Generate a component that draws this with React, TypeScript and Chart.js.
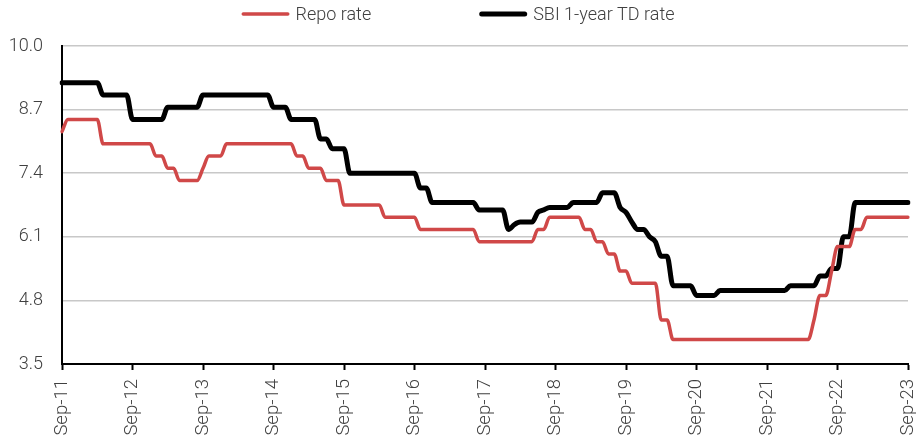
import { useEffect, useRef } from "react";
import { Chart, registerables } from "chart.js";

Chart.register(...registerables);

// Monthly observations, Sep-11 through Sep-23
const MONTH_NAMES = ["Jan", "Feb", "Mar", "Apr", "May", "Jun", "Jul", "Aug", "Sep", "Oct", "Nov", "Dec"];
const FIRST_YEAR = 2011;
const FIRST_MONTH = 8; // September
const MONTH_COUNT = 145;

const months: string[] = [];
for (let i = 0; i < MONTH_COUNT; i++) {
  const m = (FIRST_MONTH + i) % 12;
  const y = FIRST_YEAR + Math.floor((FIRST_MONTH + i) / 12);
  months.push(`${MONTH_NAMES[m]}-${String(y % 100).padStart(2, "0")}`);
}

// Policy repo rate (%), one value per month
const repoRate = [
  8.25, 8.5, 8.5, 8.5, 8.5, 8.5, 8.5, 8.0, 8.0, 8.0, 8.0, 8.0,
  8.0, 8.0, 8.0, 8.0, 7.75, 7.75, 7.5, 7.5, 7.25, 7.25, 7.25, 7.25,
  7.5, 7.75, 7.75, 7.75, 8.0, 8.0, 8.0, 8.0, 8.0, 8.0, 8.0, 8.0,
  8.0, 8.0, 8.0, 8.0, 7.75, 7.75, 7.5, 7.5, 7.5, 7.25, 7.25, 7.25,
  6.75, 6.75, 6.75, 6.75, 6.75, 6.75, 6.75, 6.5, 6.5, 6.5, 6.5, 6.5,
  6.5, 6.25, 6.25, 6.25, 6.25, 6.25, 6.25, 6.25, 6.25, 6.25, 6.25, 6.0,
  6.0, 6.0, 6.0, 6.0, 6.0, 6.0, 6.0, 6.0, 6.0, 6.25, 6.25, 6.5,
  6.5, 6.5, 6.5, 6.5, 6.5, 6.25, 6.25, 6.0, 6.0, 5.75, 5.75, 5.4,
  5.4, 5.15, 5.15, 5.15, 5.15, 5.15, 4.4, 4.4, 4.0, 4.0, 4.0, 4.0,
  4.0, 4.0, 4.0, 4.0, 4.0, 4.0, 4.0, 4.0, 4.0, 4.0, 4.0, 4.0,
  4.0, 4.0, 4.0, 4.0, 4.0, 4.0, 4.0, 4.0, 4.4, 4.9, 4.9, 5.4,
  5.9, 5.9, 5.9, 6.25, 6.25, 6.5, 6.5, 6.5, 6.5, 6.5, 6.5, 6.5,
  6.5,
];

// SBI one-year term deposit rate (%), one value per month
const sbiTdRate = [
  9.25, 9.25, 9.25, 9.25, 9.25, 9.25, 9.25, 9.0, 9.0, 9.0, 9.0, 9.0,
  8.5, 8.5, 8.5, 8.5, 8.5, 8.5, 8.75, 8.75, 8.75, 8.75, 8.75, 8.75,
  9.0, 9.0, 9.0, 9.0, 9.0, 9.0, 9.0, 9.0, 9.0, 9.0, 9.0, 9.0,
  8.75, 8.75, 8.75, 8.5, 8.5, 8.5, 8.5, 8.5, 8.1, 8.1, 7.9, 7.9,
  7.9, 7.4, 7.4, 7.4, 7.4, 7.4, 7.4, 7.4, 7.4, 7.4, 7.4, 7.4,
  7.4, 7.1, 7.1, 6.8, 6.8, 6.8, 6.8, 6.8, 6.8, 6.8, 6.8, 6.65,
  6.65, 6.65, 6.65, 6.65, 6.25, 6.35, 6.4, 6.4, 6.4, 6.6, 6.65, 6.7,
  6.7, 6.7, 6.7, 6.8, 6.8, 6.8, 6.8, 6.8, 7.0, 7.0, 7.0, 6.7,
  6.6, 6.4, 6.25, 6.25, 6.1, 6.0, 5.7, 5.7, 5.1, 5.1, 5.1, 5.1,
  4.9, 4.9, 4.9, 4.9, 5.0, 5.0, 5.0, 5.0, 5.0, 5.0, 5.0, 5.0,
  5.0, 5.0, 5.0, 5.0, 5.1, 5.1, 5.1, 5.1, 5.1, 5.3, 5.3, 5.45,
  5.45, 6.1, 6.1, 6.8, 6.8, 6.8, 6.8, 6.8, 6.8, 6.8, 6.8, 6.8,
  6.8,
];

const yTicks = [3.5, 4.8, 6.1, 7.4, 8.7, 10.0];

const RED = "#d04848";
const TEXT = "#404040";
const FONT_FAMILY = "Roboto, 'Noto Sans', sans-serif";
const FONT_WEIGHT = 300;

// Centred line-sample legend drawn above the plot
const lineLegend = {
  id: "lineLegend",
  afterDraw(chart: Chart) {
    const ctx = chart.ctx;
    const sample = 48;
    const gap = 6;
    const itemGap = 108;
    const y = 14;
    ctx.save();
    ctx.font = `${FONT_WEIGHT} 18px ${FONT_FAMILY}`;
    ctx.textBaseline = "middle";
    const items = chart.data.datasets.map((d: any) => ({
      label: d.label as string,
      color: d.borderColor as string,
      width: d.borderWidth as number,
      w: sample + gap + ctx.measureText(d.label).width,
    }));
    const total = items.reduce((s, it) => s + it.w, 0) + itemGap * (items.length - 1);
    let x = (chart.width - total) / 2;
    for (const it of items) {
      ctx.strokeStyle = it.color;
      ctx.lineWidth = it.width;
      ctx.lineCap = "round";
      ctx.beginPath();
      ctx.moveTo(x + it.width / 2, y);
      ctx.lineTo(x + sample - it.width / 2, y);
      ctx.stroke();
      ctx.fillStyle = TEXT;
      ctx.fillText(it.label, x + sample + gap, y + 1);
      x += it.w + itemGap;
    }
    ctx.restore();
  },
};

export default function App() {
  const canvasRef = useRef<HTMLCanvasElement>(null);

  useEffect(() => {
    document.body.style.margin = "0";
    const canvas = canvasRef.current;
    if (!canvas) return;
    const chart = new Chart(canvas, {
      type: "line",
      data: {
        labels: months,
        datasets: [
          {
            label: "Repo rate",
            data: repoRate,
            borderColor: RED,
            backgroundColor: RED,
            borderWidth: 3.5,
            pointRadius: 0,
            cubicInterpolationMode: "monotone",
            borderCapStyle: "round",
            borderJoinStyle: "round",
          },
          {
            label: "SBI 1-year TD rate",
            data: sbiTdRate,
            borderColor: "#000000",
            backgroundColor: "#000000",
            borderWidth: 5,
            pointRadius: 0,
            cubicInterpolationMode: "monotone",
            borderCapStyle: "round",
            borderJoinStyle: "round",
          },
        ],
      },
      options: {
        responsive: false,
        animation: false,
        layout: { padding: { top: 46, left: 8, right: 8, bottom: 0 } },
        plugins: {
          legend: { display: false },
          tooltip: { enabled: false },
        },
        scales: {
          x: {
            offset: false,
            afterFit: (axis: any) => {
              axis.height = 75;
              axis.paddingLeft = 0;
              axis.paddingRight = 0;
            },
            border: { display: true, color: "#000000", width: 2 },
            grid: {
              drawOnChartArea: false,
              drawTicks: true,
              tickLength: 6,
              tickColor: "#000000",
              tickWidth: 2,
            },
            ticks: {
              autoSkip: false,
              maxRotation: 90,
              minRotation: 90,
              padding: 9,
              color: TEXT,
              font: { family: FONT_FAMILY, size: 18.5, weight: FONT_WEIGHT },
              callback: (_v: any, i: number) => (i % 12 === 0 ? months[i] : null),
            },
          },
          y: {
            min: 3.5,
            max: 10,
            afterBuildTicks: (axis: any) => {
              axis.ticks = yTicks.map((value) => ({ value }));
            },
            afterFit: (axis: any) => {
              axis.width = 54;
            },
            border: { display: true, color: "#000000", width: 2 },
            grid: {
              drawTicks: false,
              color: "#c8c8c8",
              lineWidth: 1.5,
            },
            ticks: {
              padding: 19,
              color: TEXT,
              font: { family: FONT_FAMILY, size: 18, weight: FONT_WEIGHT },
              callback: (v: any) => Number(v).toFixed(1),
            },
          },
        },
      },
      plugins: [lineLegend],
    });
    return () => chart.destroy();
  }, []);

  return (
    <div style={{ width: 916, height: 439 }}>
      <canvas ref={canvasRef} width={916} height={439} style={{ display: "block" }} />
    </div>
  );
}
